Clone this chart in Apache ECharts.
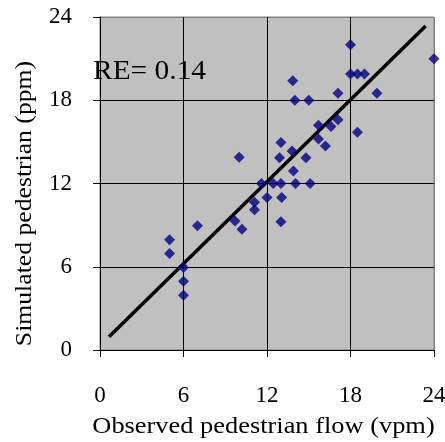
<!DOCTYPE html>
<html>
<head>
<meta charset="utf-8">
<script src="https://cdn.jsdelivr.net/npm/echarts@6/dist/echarts.min.js"></script>
<style>
html,body{margin:0;padding:0;background:#fff;}
#c{width:445px;height:442px;}
</style>
</head>
<body>
<div id="c"></div>
<script>
var observed = [18, 24, 13.85, 18, 18.5, 19, 17.1, 19.9, 14, 15, 15.7, 16.6, 17.1, 18.5, 15.7, 16.2, 13, 10, 13.8, 12.9, 14.8, 13.9, 11.6, 12.45, 13, 14.05, 15.1, 12, 13.05, 11.1, 11.1, 13, 9.7, 10.2, 7, 5, 5, 6, 6, 6];
var simulated = [22, 21, 19.4, 19.9, 19.9, 19.9, 18.5, 18.5, 18, 18, 16.2, 16.1, 16.6, 15.7, 15.2, 14.7, 14.95, 13.9, 14.35, 13.85, 13.85, 12.9, 12, 12, 12, 12, 12, 11, 11, 10.65, 10.1, 9.25, 9.3, 8.7, 8.95, 7.95, 6.95, 5.95, 4.95, 3.95];
var fitLineX = [0.65, 23.4];
var fitLineY = [0.96, 23.35];
var ticks = [0, 6, 12, 18, 24];
var xTitle = 'Observed pedestrian flow (vpm)';
var yTitle = 'Simulated pedestrian (ppm)';
var annotation = 'RE= 0.14';

var pts = observed.map(function (x, i) { return [x, simulated[i]]; });
var fit = fitLineX.map(function (x, i) { return [x, fitLineY[i]]; });
var serif = '"Liberation Serif", "DejaVu Serif", serif';

var chart = echarts.init(document.getElementById('c'), null, {renderer: 'canvas'});
chart.setOption({
  animation: false,
  backgroundColor: '#fff',
  grid: {left: 100, top: 17, width: 334, height: 333, containLabel: false, outerBoundsMode: 'none', show: true, backgroundColor: '#c0c0c0', borderColor: '#808080', borderWidth: 1},
  xAxis: {
    type: 'value', min: ticks[0], max: ticks[ticks.length - 1], interval: 6,
    axisLine: {show: true, onZero: false, lineStyle: {color: '#000', width: 1}},
    axisTick: {show: true, length: 7, lineStyle: {color: '#000'}},
    axisLabel: {fontFamily: serif, fontSize: 23, color: '#000', margin: 34},
    splitLine: {show: true, lineStyle: {color: ['#000', '#000', '#000', '#000', '#808080'], width: 1}}
  },
  yAxis: {
    type: 'value', min: ticks[0], max: ticks[ticks.length - 1], interval: 6,
    axisLine: {show: true, onZero: false, lineStyle: {color: '#000', width: 1}},
    axisTick: {show: true, length: 7, lineStyle: {color: '#000'}},
    axisLabel: {fontFamily: serif, fontSize: 23, color: '#000', margin: 28},
    splitLine: {show: true, lineStyle: {color: ['#000', '#000', '#000', '#000', '#808080'], width: 1}}
  },
  graphic: [
    {type: 'text', x: 93, y: 58, scaleX: 1.09, z: 100,
     style: {text: annotation, font: '27px ' + serif, fill: '#000'}},
    {type: 'text', x: 263.5, y: 427, scaleX: 1.1, z: 100,
     style: {text: xTitle, font: '24px ' + serif, fill: '#000', textAlign: 'center', textVerticalAlign: 'middle'}},
    {type: 'text', x: 25, y: 203.5, rotation: Math.PI / 2, scaleX: 1.07, z: 100,
     style: {text: yTitle, font: '24px ' + serif, fill: '#000', textAlign: 'center', textVerticalAlign: 'middle'}}
  ],
  series: [
    {type: 'line', data: fit, symbol: 'none', lineStyle: {color: '#000', width: 3.5}, z: 3},
    {type: 'scatter', data: pts, symbol: 'diamond', symbolSize: 11, itemStyle: {color: '#000080'}, z: 4}
  ]
});
</script>
</body>
</html>
